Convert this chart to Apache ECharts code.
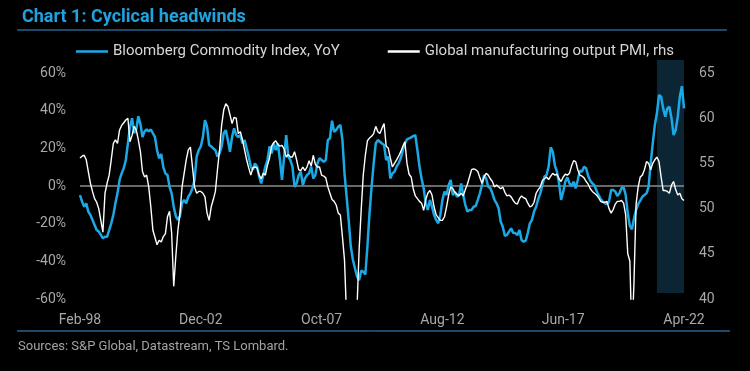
<!DOCTYPE html>
<html>
<head>
<meta charset="utf-8">
<script src="https://cdn.jsdelivr.net/npm/echarts@6/dist/echarts.min.js"></script>
<style>
html,body{margin:0;padding:0;background:#000;}
#chart{width:750px;height:371px;}
</style>
</head>
<body>
<div id="chart"></div>
<script>
// Monthly, Feb-98 .. Apr-22
const startYear = 1998, startMonth = 1; // Feb (0-based)
const monthNames = ['Jan','Feb','Mar','Apr','May','Jun','Jul','Aug','Sep','Oct','Nov','Dec'];
const tickLabels = ['Feb-98','Dec-02','Oct-07','Aug-12','Jun-17','Apr-22'];
const highlightFrom = 'Mar-21';
const highlightTo = 'Apr-22';

// Bloomberg Commodity Index, YoY (%), left axis
const bcomYoY = [
-4.8,-8.3,-11,-9.2,-13.6,-15.4,-18,-20.7,-23.4,-24.2,-26,-27.8,
-27,-27,-23.4,-19.8,-15.4,-9.2,-3.9,3.2,6.7,9.4,13.8,22.6,
31.5,36,28,30,37,33,26,29,30,29,30,28,
26,19,14.7,17,10,6.7,5.8,-0.4,-3.9,-11,-16,-18,
-16,-9,-7.4,-9.2,-5.7,-3.9,-1.2,3.2,15.6,19,21,26,
35,31.5,21.8,21,20,19,15.6,17.3,21,28,29.7,24.4,
18.2,26,30.6,27,26,27,22.6,24.4,20,15.6,10.3,8.5,
12,10.3,5,1.4,5.8,10.3,13.8,21,17.3,22.6,19,22.6,
13.8,3.2,15.6,27,15.6,13.8,10.3,-0.4,1.4,5.8,7.6,0.5,
4,5.8,6.7,10.3,4,5.8,12,14.7,13.8,12.9,13.8,24.4,
25.3,34.7,28.8,29.7,31.5,32.4,24.4,6.7,-5.7,-18,-32,-39,
-43.7,-48,-50,-45,-45.5,-47,-32,-14.5,-0.4,12,22.6,24.4,
23.5,22.6,21.8,13.8,15.6,4,6.7,7.6,10.3,12,14.7,19,
22.6,24.8,25.3,25.8,26.5,27,19,10.3,4,-1.2,-9.2,-12.7,
-7.4,-11,-15.4,-18,-19.8,-15.4,-7.4,-3,-4.8,0.5,3.2,-4.8,
-3,-5.7,-4.8,1.4,-4.8,-10,-13.6,-12.7,-12.7,-11,-10.6,-7.4,
-3.9,0.5,5.8,4,-0.4,-1.2,-3.9,-7.4,-9.2,-11.9,-19,-21.6,
-26.5,-26,-24.2,-22.5,-25,-25,-26,-23.4,-28.7,-29.6,-29,-25,
-19.8,-18,-13.6,-11,-7,-3.9,0.5,5,5.8,10.3,20.5,18.2,
11,7.6,1.4,-7.4,-3,2.3,4.6,1.4,0,2.3,-1.2,3.2,
8.1,7.6,10.3,9.4,5.3,2.8,1.4,0.4,-2.5,-4.8,-7,-8.3,
-9.2,-9.6,-8.3,-2.1,-2.1,-3,-5.3,-3.9,-1.2,-0.7,-4.8,-14.5,
-21.2,-23,-17.2,-12.7,-9.6,-7.8,-5.7,-4.8,-3.9,-0.4,12,22.6,
32.4,38.6,48.3,47.4,41.2,36.8,41.2,42.1,36,27,29.7,36.8,
47.4,53,41.2
];

// Global manufacturing output PMI, right axis
const pmiOutput = [
55.6,55.8,55.9,55.4,54.1,52.8,51.9,51.1,50.7,50.0,48.7,47.4,
51.7,52.8,53.7,55.4,57.2,57.6,57.2,58.7,59.2,59.5,59.8,60.0,
57.4,58.1,59.1,58.7,57.6,56.3,54.1,53.5,53.7,52.4,50.2,47.6,
46.8,46.0,46.5,46.3,46.9,47.2,49.1,49.7,47.3,41.4,44.7,47.6,
49.5,52.4,53.9,55.4,56.5,56.8,54.6,52.4,51.7,51.9,51.9,51.7,
51.3,49.5,48.7,50.2,51.0,51.9,54.3,56.5,59.2,60.9,61.6,61.3,
60.4,59.4,60.1,60.0,58.3,58.5,57.6,56.5,55.4,54.5,53.7,54.5,
54.6,54.5,53.7,53.3,53.9,53.7,54.8,55.6,56.9,57.3,57.5,57.1,
56.9,57.0,56.6,55.7,56.0,55.7,55.7,56.3,55.4,54.3,54.2,54.6,
54.2,54.6,55.3,54.7,55.9,54.9,54.6,54.6,53.7,53.6,53.4,52.4,
51.7,51.0,50.8,50.4,49.5,49.3,46.9,44.3,38,35,33,33.5,
35.5,39,45.4,49.8,53.7,55.9,57.5,57.8,58.0,58.3,59.1,58.5,
58.3,58.9,59.4,56.9,56.7,55.6,54.6,55.0,55.4,55.8,56.3,56.9,
57.4,55.0,53.8,53.5,52.2,51.4,51.1,50.8,50.6,49.8,51.0,51.7,
52.0,51.5,50.2,49.3,49.0,48.7,48.7,49.1,50.2,51.5,52.4,52.2,
51.8,51.6,51.4,51.7,51.4,52.1,52.7,53.5,54.3,54.4,54.3,54.1,
53.4,52.8,53.5,53.9,53.7,53.3,53.0,52.4,52.6,52.4,52.2,52.4,
51.8,51.4,51.5,51.3,50.9,50.6,50.5,51.1,51.4,51.2,51.1,50.6,
50.2,50.3,50.7,51.7,52.1,52.4,53.1,53.3,53.5,53.2,53.6,53.9,
53.7,53.8,53.3,53.0,53.5,53.8,53.7,53.9,54.7,55.3,55.2,54.3,
53.7,53.6,53.4,53.0,52.7,52.2,51.9,51.7,51.5,51.2,50.8,50.7,
50.7,50.8,50.0,49.5,49.9,50.5,50.8,50.8,50.9,50.6,49.3,45.0,
44.2,35.5,42.0,50.5,52.4,53.5,53.7,54.3,55.2,55.0,54.3,55.0,
55.4,55.7,55.2,53.5,52.0,52.0,51.9,51.7,52.6,53.0,52.1,51.5,
51.7,51.1,50.9
];

const categories = [];
for (let i = 0; i < bcomYoY.length; i++) {
  const m = (startMonth + i) % 12;
  const y = startYear + Math.floor((startMonth + i) / 12);
  categories.push(monthNames[m] + '-' + String(y % 100).padStart(2, '0'));
}
const tickStep = categories.indexOf(tickLabels[1]) - categories.indexOf(tickLabels[0]);

const FONT = 'Roboto';
const chart = echarts.init(document.getElementById('chart'));
chart.setOption({
  backgroundColor: '#000000',
  animation: false,
  title: {
    text: 'Chart 1: Cyclical headwinds',
    left: 17, top: 3,
    textStyle: {color: '#1fa2dd', fontSize: 18, fontWeight: 'bold', fontFamily: FONT}
  },
  legend: {
    top: 39, left: 'center',
    icon: 'rect',
    itemWidth: 32, itemHeight: 2.5, itemGap: 48,
    textStyle: {color: '#d6d6d6', fontSize: 15, fontFamily: FONT},
    data: ['Bloomberg Commodity Index, YoY', 'Global manufacturing output PMI, rhs']
  },
  grid: {left: 80, right: 66, top: 73, bottom: 72, containLabel: false},
  xAxis: {
    type: 'category', data: categories, boundaryGap: false,
    axisLine: {show: false}, axisTick: {show: false}, splitLine: {show: false},
    axisLabel: {interval: tickStep - 1, color: '#a8a8a8', fontSize: 14, fontFamily: FONT, margin: 14}
  },
  yAxis: [
    {type: 'value', min: -60, max: 60, interval: 20,
     axisLine: {show: false}, axisTick: {show: false}, splitLine: {show: false},
     axisLabel: {formatter: '{value}%', color: '#a8a8a8', fontSize: 14, fontFamily: FONT, margin: 14}},
    {type: 'value', min: 40, max: 65, interval: 5,
     axisLine: {show: false}, axisTick: {show: false}, splitLine: {show: false},
     axisLabel: {color: '#a8a8a8', fontSize: 14, fontFamily: FONT, margin: 15}}
  ],
  graphic: [
    {type: 'line', shape: {x1: 17, y1: 30, x2: 727, y2: 30}, style: {stroke: '#3a90cf', lineWidth: 1}},
    {type: 'line', shape: {x1: 17, y1: 331, x2: 730, y2: 331}, style: {stroke: '#3a90cf', lineWidth: 1}},
    {type: 'text', left: 18, top: 340, style: {text: 'Sources: S&P Global, Datastream, TS Lombard.', fill: '#a3a3a3', font: '13px ' + FONT}}
  ],
  series: [
    {
      name: 'Bloomberg Commodity Index, YoY', type: 'line', yAxisIndex: 0,
      data: bcomYoY, symbol: 'none', z: 3,
      lineStyle: {color: '#1ba9e6', width: 2.5}, itemStyle: {color: '#1ba9e6'},
      markArea: {
        silent: true, z: 1,
        itemStyle: {color: '#0b2535'},
        data: [[{xAxis: highlightFrom, y: 60}, {xAxis: highlightTo, y: 293}]]
      },
      markLine: {
        silent: true, symbol: ['none', 'none'], z: 2,
        label: {show: false},
        lineStyle: {color: '#8c8c8c', width: 1.5, type: 'solid'},
        data: [{yAxis: 0}]
      }
    },
    {
      name: 'Global manufacturing output PMI, rhs', type: 'line', yAxisIndex: 1,
      data: pmiOutput, symbol: 'none', z: 4,
      lineStyle: {color: '#ffffff', width: 1.4}, itemStyle: {color: '#ffffff'}
    }
  ]
});
</script>
</body>
</html>
